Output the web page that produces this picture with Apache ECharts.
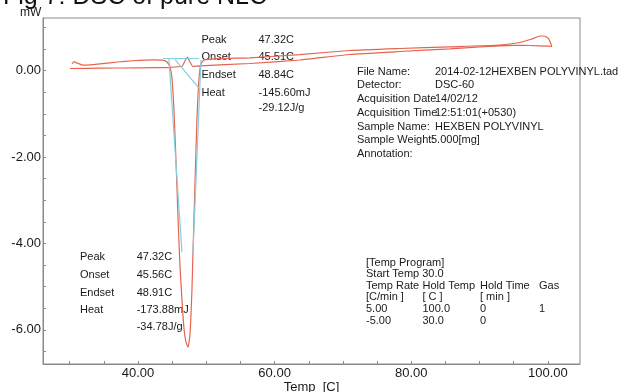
<!DOCTYPE html>
<html>
<head>
<meta charset="utf-8">
<script src="https://cdn.jsdelivr.net/npm/echarts@6/dist/echarts.min.js"></script>
<style>
  html, body { margin: 0; padding: 0; background: #fff; }
  #main { width: 620px; height: 392px; }
</style>
</head>
<body>
<div id="main"></div>
<script>
// DSC trace: heating 30 -> 100 C, then cooling back to 30 C  [temp C, mW]
const heating = [
  [30.34, 0.155], [30.64, 0.208], [31.08, 0.178], [31.95, 0.127], [33.71, 0.148],
  [35.90, 0.183], [38.10, 0.218], [40.29, 0.241], [42.49, 0.252], [43.66, 0.243],
  [44.24, 0.201], [44.68, 0.086], [44.97, -0.169], [45.27, -0.91], [45.56, -2.07],
  [45.85, -3.34], [46.14, -4.50], [46.44, -5.31], [46.73, -5.96], [47.02, -6.28],
  [47.32, -6.40], [47.61, -6.12], [47.90, -5.08], [48.05, -4.22], [48.34, -2.65],
  [48.63, -1.14], [48.92, -0.215], [49.22, 0.155], [49.66, 0.248], [52.00, 0.280],
  [56.39, 0.299], [63.70, 0.373], [71.02, 0.468], [78.33, 0.514], [85.65, 0.553],
  [92.96, 0.595], [95.89, 0.653], [97.65, 0.734], [98.82, 0.803], [99.40, 0.803],
  [99.99, 0.757], [100.28, 0.688], [100.57, 0.560]
];
const cooling = [
  [99.99, 0.567], [97.35, 0.583], [94.86, 0.588], [90.04, 0.549], [85.65, 0.507],
  [78.33, 0.444], [71.02, 0.375], [63.70, 0.248], [56.39, 0.167], [49.07, 0.113],
  [48.05, 0.097], [47.61, 0.201], [47.24, 0.317], [46.88, 0.225], [46.44, 0.102],
  [44.68, 0.079], [40.29, 0.067], [34.44, 0.058], [30.05, 0.051]
];

// analysis lines (baseline, flank tangents, label pointer)
const cyanBaseline = [[43.66, 0.282], [48.92, 0.282]];
const cyanLeftTangent = [[44.53, 0.271], [46.44, -4.20]];
const cyanRightTangent = [[49.22, 0.248], [48.05, -4.22]];
const cyanPointer = [[45.41, 0.264], [49.07, -0.43]];

// axes
const xMinorTicks = [30, 35, 40, 45, 50, 55, 60, 65, 70, 75, 80, 85, 90, 95, 100];
const xLabels = [40, 60, 80, 100];
const yMinorTicks = [-6.5, -6, -5.5, -5, -4.5, -4, -3.5, -3, -2.5, -2, -1.5, -1, -0.5, 0, 0.5, 1];
const yLabels = [-6, -4, -2, 0];

// texts
const peakLabels = ['Peak', 'Onset', 'Endset', 'Heat', ''];
const upperPeakValues = ['47.32C', '45.51C', '48.84C', '-145.60mJ', '-29.12J/g'];
const lowerPeakValues = ['47.32C', '45.56C', '48.91C', '-173.88mJ', '-34.78J/g'];
const infoLabels = ['File Name:', 'Detector:', 'Acquisition Date', 'Acquisition Time', 'Sample Name:', 'Sample Weight:', 'Annotation:'];
const infoValues = ['2014-02-12HEXBEN POLYVINYL.tad', 'DSC-60', '14/02/12', '12:51:01(+0530)', 'HEXBEN POLYVINYL', '5.000[mg]', ''];
const programRows = [
  ['[Temp Program]'],
  ['Start Temp 30.0'],
  ['Temp Rate', 'Hold Temp', 'Hold Time', 'Gas'],
  ['[C/min ]', '[ C ]', '[ min ]'],
  ['5.00', '100.0', '0', '1'],
  ['-5.00', '30.0', '0']
];

const font = '"Liberation Sans", Arial, sans-serif';
const ink = '#1a1a1a';
const axisGray = '#8a8a8a';

function txt(s, x, y, size, color) {
  return {
    type: 'text', x: x, y: y, silent: true,
    style: { text: s, fontSize: size || 11, fontFamily: font, fill: color || ink, verticalAlign: 'middle' }
  };
}

const texts = [];
texts.push(txt('Fig 7: DSC of pure NLC', 3, -3, 25, '#111'));
texts.push(txt('mW', 20, 12.7, 12));

// peak result blocks
const upperY = [40, 57.3, 75, 92.7, 108.3];
const lowerY = [257.3, 275, 292.7, 310, 326.7];
peakLabels.forEach((s, i) => {
  if (s) {
    texts.push(txt(s, 201.5, upperY[i]));
    texts.push(txt(s, 80, lowerY[i]));
  }
  texts.push(txt(upperPeakValues[i], 258.5, upperY[i]));
  texts.push(txt(lowerPeakValues[i], 136.7, lowerY[i]));
});

// file info block
const infoValX = [435, 435, 435, 435, 435, 431, 435];
infoLabels.forEach((s, i) => {
  const y = 71.7 + 13.7 * i;
  texts.push(txt(s, 357, y));
  if (infoValues[i]) texts.push(txt(infoValues[i], infoValX[i], y));
});

// temperature program table
const progY = [262.5, 273.5, 285.5, 297, 309, 320.7];
const progX = [366, 422.5, 480, 539];
programRows.forEach((row, r) => {
  row.forEach((s, c) => texts.push(txt(s, progX[c], progY[r])));
});

const chart = echarts.init(document.getElementById('main'));
const lineBase = { type: 'line', showSymbol: false, silent: true, animation: false };

chart.setOption({
  animation: false,
  grid: {
    left: 43, top: 18, width: 537, height: 346,
    outerBoundsMode: 'none', containLabel: false,
    show: true, borderColor: axisGray, borderWidth: 1
  },
  xAxis: {
    type: 'value', min: 26.1, max: 104.7,
    name: 'Temp  [C]', nameLocation: 'middle', nameGap: 17, nameMoveOverlap: false,
    nameTextStyle: { fontSize: 13, color: ink, fontFamily: font },
    axisLine: { onZero: false, lineStyle: { color: axisGray } },
    axisTick: { inside: true, length: 3, customValues: xMinorTicks, lineStyle: { color: axisGray } },
    axisLabel: { customValues: xLabels, formatter: v => v.toFixed(2), margin: 3, fontSize: 13, color: ink, fontFamily: font },
    splitLine: { show: false }
  },
  yAxis: {
    type: 'value', min: -6.79, max: 1.22,
    axisLine: { show: true, onZero: false, lineStyle: { color: axisGray } },
    axisTick: { show: true, inside: true, length: 3, customValues: yMinorTicks, lineStyle: { color: axisGray } },
    axisLabel: { customValues: yLabels, formatter: v => v.toFixed(2), margin: 2, fontSize: 13, color: ink, fontFamily: font },
    splitLine: { show: false }
  },
  series: [
    Object.assign({}, lineBase, { data: heating.concat(cooling), smooth: 0.15, lineStyle: { color: '#e8634e', width: 1.2 } }),
    Object.assign({}, lineBase, { data: cyanBaseline, lineStyle: { color: '#84cfdf', width: 1.2 } }),
    Object.assign({}, lineBase, { data: cyanLeftTangent, lineStyle: { color: '#84cfdf', width: 1.2 } }),
    Object.assign({}, lineBase, { data: cyanRightTangent, lineStyle: { color: '#84cfdf', width: 1.2 } }),
    Object.assign({}, lineBase, { data: cyanPointer, lineStyle: { color: '#84cfdf', width: 1.2 } })
  ],
  graphic: texts
});
</script>
</body>
</html>
